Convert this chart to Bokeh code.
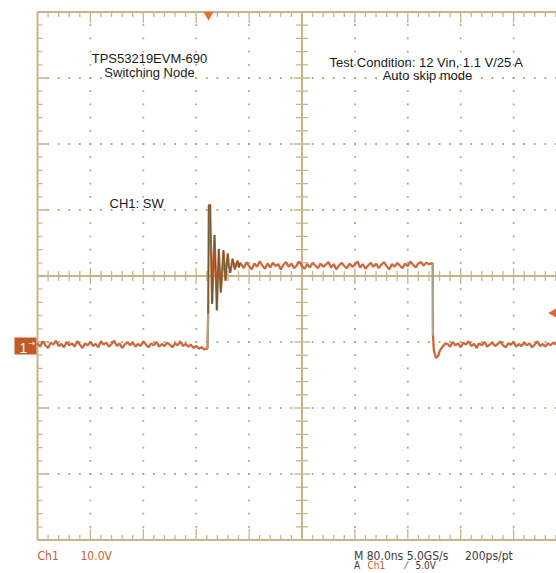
import numpy as np
from bokeh.plotting import figure
from bokeh.models import Range1d
from bokeh.core.properties import value
from bokeh.embed import file_html
from bokeh.resources import INLINE

# ---------------- data ----------------
NS_PER_DIV = 80.0          # M 80.0ns
V_PER_DIV = 10.0           # Ch1 10.0V
N_DIV_X = 10
N_DIV_Y = 8
GROUND_DIV_BELOW_CENTER = 1
SAMPLE_NS = 4.0

# low level before the switching edge (V), every 4 ns from t = 0
LOW_LEFT_T0 = 0.0
LOW_LEFT_V = [
    -0.2, -0.7, 0.1, -0.5, -0.9, -0.1, -0.4, 0.2, -0.6, -0.3,
    -0.8, 0.0, -0.5, -0.2, -0.7, 0.1, -0.4, -0.9, -0.2, -0.5,
    0.0, -0.6, -0.3, -0.8, 0.1, -0.4, -0.1, -0.7, -0.3, 0.2,
    -0.6, -0.2, -0.9, -0.4, 0.0, -0.5, -0.1, -0.7, -0.3, -0.6,
    0.1, -0.4, -0.8, -0.2, -0.5, 0.0, -0.7, -0.3, -0.6, -0.1,
    -0.4, -0.8, -0.2, -0.5, 0.1, -0.6, -0.3, -0.7, -0.4, -0.9,
    -0.6, -1.0, -0.8, -1.1, -1.0,
]

# rising edge and ringing
RING_T = [257.1, 258.1, 259.1, 261.1, 262.1, 264.1, 266.2, 267.7, 269.7, 271.2,
          272.7, 274.2, 275.7, 277.2, 279.3, 281.3, 282.8, 284.3, 285.8, 287.8,
          289.3, 291.4, 293.4, 294.9, 296.9, 298.4, 300.5, 302.5, 304.5, 306.5]
RING_V = [-1.0, 4.3, 20.7, 20.8, 15.4, 5.8, 12.1, 16.2, 10.1, 4.8,
          9.6, 14.1, 10.6, 7.5, 10.8, 13.9, 11.3, 9.3, 11.3, 13.4,
          11.6, 10.5, 11.6, 12.6, 11.8, 11.0, 11.8, 12.3, 11.3, 12.0]

# high level (V), every 4 ns from t = 308
HIGH_T0 = 308.0
HIGH_V = [
    11.8, 11.2, 12.1, 11.5, 11.0, 11.9, 11.4, 12.2, 11.6, 11.1,
    11.9, 11.3, 12.0, 11.5, 11.8, 11.0, 11.7, 12.1, 11.4, 11.9,
    11.2, 11.6, 12.2, 11.5, 11.1, 11.8, 11.3, 12.0, 11.6, 11.2,
    11.9, 11.4, 11.7, 12.1, 11.3, 11.8, 11.0, 11.6, 12.0, 11.5,
    11.2, 11.9, 11.4, 11.7, 12.2, 11.3, 11.8, 11.1, 11.6, 12.0,
    11.4, 11.9, 11.2, 11.7, 12.1, 11.5, 11.0, 11.8, 11.4, 12.0,
    11.6, 11.2, 11.9, 11.5, 12.2, 11.7, 11.3, 11.9, 12.1, 11.6,
    12.0, 11.8, 11.9,
]

# falling edge
FALL_T = [597.8, 598.0, 599.5, 602.5, 606.0, 608.5, 612.0, 617.0]
FALL_V = [11.9, 1.0, -1.3, -2.4, -2.1, -1.3, -0.8, -0.2]

# low level after the edge (V), every 4 ns from t = 620
LOW_RIGHT_T0 = 620.0
LOW_RIGHT_V = [
    -0.3, -0.7, 0.0, -0.5, -0.2, -0.8, -0.1, -0.4, 0.1, -0.6,
    -0.3, -0.9, -0.2, -0.5, 0.0, -0.7, -0.4, -0.1, -0.6, -0.3,
    0.1, -0.5, -0.8, -0.2, -0.4, 0.0, -0.7, -0.3, -0.6, -0.1,
    -0.5, -0.2, -0.8, -0.4, 0.1, -0.6, -0.3, -0.7, -0.2, -0.5,
    -0.1, -0.4,
]

TRIGGER_T = 258.6
TRIGGER_LEVEL = 5.0

# ---------------- screen layout ----------------
W, H = 556, 573
PAGE_X0, PAGE_Y0 = 0, 0
X_ORIGIN_PX = 37.0          # x of left graticule edge in the picture
PX_PER_NS = 52.9 / NS_PER_DIV
Y_GROUND_PX = 341.5         # y of ground row in the picture
PX_PER_V = 66.0 / V_PER_DIV
TEXT_SHIFT_PX = 4.5         # svg text sits a little low; lift it


def tx(px):
    return (px - X_ORIGIN_PX) / PX_PER_NS


def vy(py):
    return (Y_GROUND_PX - py) / PX_PER_V


def vyt(py):
    return vy(py - TEXT_SHIFT_PX)


TOP_V = (N_DIV_Y / 2 + GROUND_DIV_BELOW_CENTER) * V_PER_DIV
BOTTOM_V = TOP_V - N_DIV_Y * V_PER_DIV
CENTER_V = TOP_V - N_DIV_Y / 2 * V_PER_DIV
RIGHT_T = N_DIV_X * NS_PER_DIV
CENTER_T = RIGHT_T / 2

p = figure(width=W, height=H, output_backend="svg", toolbar_location=None,
           x_axis_location=None, y_axis_location=None,
           x_range=Range1d(tx(PAGE_X0), tx(PAGE_X0 + W)),
           y_range=Range1d(vy(PAGE_Y0 + H), vy(PAGE_Y0)),
           min_border=0, min_border_left=0, min_border_right=0,
           min_border_top=0, min_border_bottom=0)
p.grid.visible = False
p.outline_line_color = None
p.background_fill_color = "white"
p.border_fill_color = "white"

GRID_COL = "#c6b58a"
DOT_COL = "#b2a47b"

# dotted graticule
minor_t = NS_PER_DIV / 5
minor_v = V_PER_DIV / 5
dx, dy = [], []
for k in range(1, N_DIV_X):
    if k == N_DIV_X // 2:
        continue
    for j in range(1, N_DIV_Y * 5):
        dx.append(k * NS_PER_DIV)
        dy.append(BOTTOM_V + j * minor_v)
for m in range(1, N_DIV_Y):
    if m == N_DIV_Y // 2:
        continue
    for i in range(1, N_DIV_X * 5):
        dx.append(i * minor_t)
        dy.append(BOTTOM_V + m * V_PER_DIV)
p.scatter(dx, dy, marker="square", size=1.8, fill_color=DOT_COL, line_color=None)

# ticks
x0s, y0s, x1s, y1s = [], [], [], []
for i in range(1, N_DIV_X * 5):
    t = i * minor_t
    major = (i % 5 == 0)
    Lb = (11 if major else 5) / PX_PER_V
    Lc = (8 if major else 5) / PX_PER_V
    x0s += [t, t, t]
    y0s += [TOP_V, BOTTOM_V, CENTER_V - Lc]
    x1s += [t, t, t]
    y1s += [TOP_V - Lb, BOTTOM_V + Lb, CENTER_V + Lc]
for j in range(1, N_DIV_Y * 5):
    v = BOTTOM_V + j * minor_v
    major = (j % 5 == 0)
    Lb = (11 if major else 5) / PX_PER_NS
    Lc = (8 if major else 6) / PX_PER_NS
    x0s += [0, CENTER_T - Lc]
    y0s += [v, v]
    x1s += [Lb, CENTER_T + Lc]
    y1s += [v, v]
p.segment(x0s, y0s, x1s, y1s, line_color=GRID_COL, line_width=1.3)

# border and centre lines
p.segment([0, 0, 0, RIGHT_T, 0, CENTER_T],
          [BOTTOM_V, TOP_V, BOTTOM_V, BOTTOM_V, CENTER_V, BOTTOM_V],
          [0, RIGHT_T, RIGHT_T, RIGHT_T, RIGHT_T, CENTER_T],
          [TOP_V, TOP_V, BOTTOM_V, TOP_V, CENTER_V, TOP_V],
          line_color=GRID_COL, line_width=2)

# ---------------- trace ----------------
low_left_t = LOW_LEFT_T0 + SAMPLE_NS * np.arange(len(LOW_LEFT_V))
high_t = HIGH_T0 + SAMPLE_NS * np.arange(len(HIGH_V))
low_right_t = LOW_RIGHT_T0 + SAMPLE_NS * np.arange(len(LOW_RIGHT_V))

trace_t = np.concatenate([low_left_t, RING_T, high_t, FALL_T, low_right_t])
trace_v = np.concatenate([LOW_LEFT_V, RING_V, HIGH_V, FALL_V, LOW_RIGHT_V])

TRACE_COL = "#c65a28"
p.line(trace_t, trace_v, line_color=TRACE_COL, line_width=2.3, line_alpha=0.9)
p.line(RING_T[1:], RING_V[1:], line_color="#625c36", line_width=1.0)
p.line(RING_T[0:2], RING_V[0:2], line_color="#a9a48a", line_width=2)
p.line(FALL_T[0:2], FALL_V[0:2], line_color="#a9a48a", line_width=2)

# ---------------- markers ----------------
p.scatter([TRIGGER_T], [TOP_V - 3 / PX_PER_V], marker="inverted_triangle", size=10,
          fill_color="#ef6c2f", line_color=None)
p.scatter([tx(553)], [TRIGGER_LEVEL - 0.6], marker="triangle", angle=np.pi / 2, size=9,
          fill_color="#e8632c", line_color=None)

# ground marker "1->"
p.quad(left=[tx(14)], right=[tx(36)], top=[vy(337)], bottom=[vy(354)],
       fill_color="#c25a26", line_color=None)
p.text(x=[tx(23)], y=[vyt(352)], text=["1"], text_align="center", text_baseline="alphabetic",
       text_font=value("Liberation Sans"), text_font_size="14px", text_color="white")
p.text(x=[tx(28)], y=[vyt(347)], text=["→"], text_align="left", text_baseline="alphabetic",
       text_font=value("DejaVu Sans"), text_font_size="8px", text_color="white")

# ---------------- texts ----------------
FONT = value("Liberation Sans")
NARROW = value("DejaVu Sans Condensed, Liberation Sans, sans-serif")
labels = [
    ("TPS53219EVM-690", 149, 62, "center"),
    ("Switching Node", 149, 76, "center"),
    ("Test Condition: 12 Vin, 1.1 V/25 A", 426, 66, "center"),
    ("Auto skip mode", 427, 79.5, "center"),
    ("CH1: SW", 109, 207.5, "left"),
]
for txt, px, py, al in labels:
    p.text(x=[tx(px)], y=[vyt(py)], text=[txt], text_align=al, text_baseline="alphabetic",
           text_font=FONT, text_font_size="13px", text_color="#1a1a1a")

bottom = [
    ("Ch1", 37, 559.5, "#c8602c", "12px"),
    ("10.0V", 80, 559.5, "#c8602c", "12px"),
    ("M 80.0ns 5.0GS/s", 353.5, 559.5, "#3c3c3c", "12px"),
    ("200ps/pt", 464.5, 559.5, "#3c3c3c", "12px"),
    ("A", 353.5, 569.5, "#3c3c3c", "10px"),
    ("Ch1", 367, 569.5, "#c8602c", "10px"),
    ("⁄", 405, 569.5, "#3c3c3c", "10px"),
    ("5.0V", 415, 569.5, "#3c3c3c", "10px"),
]
for txt, px, py, col, fs in bottom:
    p.text(x=[tx(px)], y=[vyt(py)], text=[txt], text_align="left", text_baseline="alphabetic",
           text_font=NARROW, text_font_size=fs, text_color=col)

open("out.html", "w").write(file_html(p, INLINE))
